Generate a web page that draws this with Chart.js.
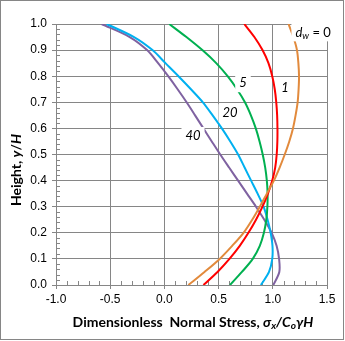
<!DOCTYPE html>
<html>
<head>
<meta charset="utf-8">
<script src="https://cdn.jsdelivr.net/npm/chart.js@4.4.0/dist/chart.umd.min.js"></script>
<style>
    html, body { margin: 0; padding: 0; background: #fff; }
    canvas { display: block; }
</style>
</head>
<body>
<canvas id="stressChart" width="345" height="341"></canvas>
<script>
// Heights y/H shared by every curve
const heights = [0, 0.05, 0.1, 0.15, 0.2, 0.25, 0.3, 0.35, 0.4, 0.45, 0.5,
                 0.55, 0.6, 0.65, 0.7, 0.75, 0.8, 0.85, 0.9, 0.95, 1.0];

// Dimensionless normal stress for each d_w
const stressDw0 = [0.221, 0.37, 0.51, 0.625, 0.73, 0.81, 0.88, 0.945, 1.01, 1.063, 1.11,
                   1.152, 1.186, 1.21, 1.229, 1.238, 1.242, 1.236, 1.223, 1.19, 1.145];
const stressDw1 = [0.36, 0.49, 0.60, 0.695, 0.775, 0.845, 0.905, 0.955, 0.995, 1.022, 1.036,
                   1.042, 1.043, 1.04, 1.032, 1.018, 0.995, 0.96, 0.905, 0.83, 0.737];
const stressDw5 = [0.605, 0.715, 0.815, 0.88, 0.918, 0.94, 0.95, 0.952, 0.945, 0.93, 0.907,
                   0.878, 0.843, 0.798, 0.743, 0.67, 0.583, 0.478, 0.35, 0.203, 0.045];
const stressDw20 = [0.89, 0.965, 0.995, 0.997, 0.98, 0.952, 0.915, 0.86, 0.80, 0.74, 0.68,
                    0.608, 0.53, 0.445, 0.355, 0.245, 0.13, 0.01, -0.11, -0.28, -0.533];
const stressDw40 = [1.005, 1.06, 1.058, 1.035, 0.99, 0.922, 0.845, 0.762, 0.68, 0.597, 0.515,
                    0.437, 0.36, 0.283, 0.205, 0.122, 0.035, -0.058, -0.16, -0.32, -0.58];

const seriesNames = ['0', '1', '5', '20', '40'];
const seriesValues = [stressDw0, stressDw1, stressDw5, stressDw20, stressDw40];
const seriesColors = ['#E28A3C', '#FF0000', '#00B050', '#00B0F0', '#7F62A1'];

const gridColor = '#868686';

function toPoints(values) {
    return values.map((v, i) => ({ x: v, y: heights[i] }));
}

// text made of runs with mixed italic / bold / subscript
function runFont(run, size) {
    const s = run.sub ? size * 0.72 : size;
    return (run.italic ? 'italic ' : '') + (run.bold ? 'bold ' : '') + s + 'px Lato, "Open Sans", sans-serif';
}
function runsWidth(ctx, runs, size) {
    let w = 0;
    runs.forEach(r => { ctx.font = runFont(r, size); w += ctx.measureText(r.text).width; });
    return w;
}
function drawRuns(ctx, runs, cx, cy, size) {
    const total = runsWidth(ctx, runs, size);
    let x = cx - total / 2;
    ctx.textAlign = 'left';
    ctx.textBaseline = 'middle';
    runs.forEach(r => {
        ctx.font = runFont(r, size);
        ctx.fillText(r.text, x, r.sub ? cy + size * 0.28 : cy);
        x += ctx.measureText(r.text).width;
    });
    return total;
}

const xTitle = [
    { text: 'Dimensionless  Normal Stress, ', bold: true },
    { text: 'σ', bold: true, italic: true },
    { text: 'x', bold: true, italic: true, sub: true },
    { text: '/C', bold: true, italic: true },
    { text: 'o', bold: true, italic: true, sub: true },
    { text: 'γH', bold: true, italic: true }
];
const yTitle = [
    { text: 'Height, ', bold: true },
    { text: 'y', bold: true, italic: true },
    { text: '/', bold: true },
    { text: 'H', bold: true, italic: true }
];

// curve labels, placed in data units
const labelSpots = [
    { runs: [{ text: '5', italic: true }], x: 0.725, y: 0.773 },
    { runs: [{ text: '1', italic: true }], x: 1.113, y: 0.754 },
    { runs: [{ text: '20', italic: true }], x: 0.605, y: 0.658 },
    { runs: [{ text: '40', italic: true }], x: 0.264, y: 0.571 },
    { runs: [{ text: 'd', italic: true }, { text: 'w', italic: true, sub: true }, { text: ' = 0' }], x: 1.372, y: 0.968 }
];

const decorPlugin = {
    id: 'decor',
    beforeDraw: (chart) => {
        const ctx = chart.ctx;
        ctx.save();
        ctx.fillStyle = '#fff';
        ctx.fillRect(0, 0, chart.width, chart.height);
        ctx.restore();
    },
    beforeDatasetsDraw: (chart) => {
        // minor tick marks inside the plot
        const ctx = chart.ctx;
        const xs = chart.scales.x;
        const ys = chart.scales.y;
        ctx.save();
        ctx.strokeStyle = gridColor;
        ctx.lineWidth = 1;
        ctx.beginPath();
        for (let i = -10; i <= 15; i++) {
            if (i % 5 === 0) continue;
            const px = Math.round(xs.getPixelForValue(i / 10)) + 0.5;
            ctx.moveTo(px, ys.bottom);
            ctx.lineTo(px, ys.bottom - 4);
        }
        for (let j = 0; j <= 50; j++) {
            if (j % 5 === 0) continue;
            const py = Math.round(ys.getPixelForValue(j / 50)) + 0.5;
            ctx.moveTo(xs.left, py);
            ctx.lineTo(xs.left + 4, py);
        }
        ctx.stroke();
        ctx.restore();
    },
    afterDraw: (chart) => {
        const ctx = chart.ctx;
        const xs = chart.scales.x;
        const ys = chart.scales.y;
        ctx.save();
        ctx.fillStyle = '#000';

        // curve labels on white boxes
        labelSpots.forEach(spot => {
            const cx = xs.getPixelForValue(spot.x);
            const cy = ys.getPixelForValue(spot.y);
            const w = runsWidth(ctx, spot.runs, 13);
            ctx.fillStyle = '#fff';
            ctx.fillRect(cx - w / 2 - 4, cy - 9, w + 8, 18);
            ctx.fillStyle = '#000';
            drawRuns(ctx, spot.runs, cx, cy, 13);
        });

        // axis titles
        drawRuns(ctx, xTitle, 193, 322, 14);
        ctx.translate(16, 170);
        ctx.rotate(-Math.PI / 2);
        drawRuns(ctx, yTitle, 0, 0, 14);
        ctx.restore();

        // outer frame
        ctx.save();
        ctx.strokeStyle = gridColor;
        ctx.lineWidth = 1;
        ctx.strokeRect(0.5, 0.5, 343, 339);
        ctx.restore();
    }
};

const tickFont = { family: '"Liberation Sans", Arial, sans-serif', size: 12 };

new Chart(document.getElementById('stressChart').getContext('2d'), {
    type: 'scatter',
    data: {
        datasets: seriesNames.map((name, i) => ({
            label: 'd_w = ' + name,
            data: toPoints(seriesValues[i]),
            showLine: true,
            borderColor: seriesColors[i],
            backgroundColor: seriesColors[i],
            borderWidth: 2,
            pointRadius: 0,
            tension: 0.3,
            fill: false
        }))
    },
    options: {
        responsive: false,
        animation: false,
        devicePixelRatio: 1,
        layout: { padding: { top: 24, right: 18, bottom: 0, left: 0 } },
        plugins: {
            legend: { display: false },
            tooltip: { enabled: false }
        },
        scales: {
            x: {
                type: 'linear',
                min: -1,
                max: 1.5,
                afterFit: (scale) => { scale.height = 56; },
                ticks: {
                    stepSize: 0.5,
                    font: tickFont,
                    color: '#000',
                    padding: 3,
                    maxRotation: 0,
                    callback: (v) => v.toFixed(1)
                },
                grid: { color: gridColor, lineWidth: 1, tickLength: 4 },
                border: { color: gridColor }
            },
            y: {
                type: 'linear',
                min: 0,
                max: 1,
                afterFit: (scale) => { scale.width = 56; },
                ticks: {
                    stepSize: 0.1,
                    font: tickFont,
                    color: '#000',
                    padding: 5,
                    callback: (v) => v.toFixed(1)
                },
                grid: { color: gridColor, lineWidth: 1, tickLength: 4 },
                border: { color: gridColor }
            }
        }
    },
    plugins: [decorPlugin]
});
</script>
</body>
</html>
